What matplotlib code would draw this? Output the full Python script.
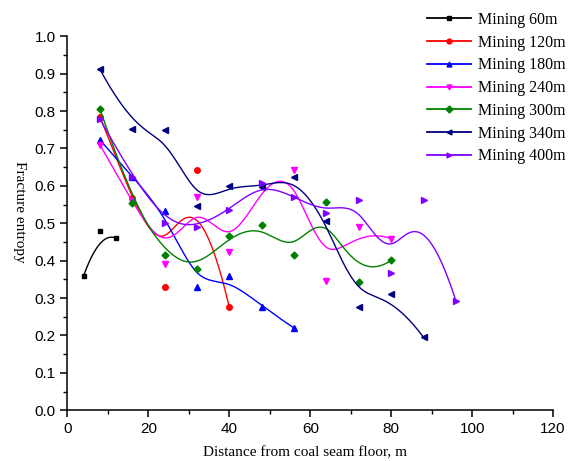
import numpy as np
import matplotlib
matplotlib.use('Agg')
import matplotlib.pyplot as plt
from matplotlib.lines import Line2D
from matplotlib.ticker import MultipleLocator, FormatStrFormatter

# DATA
mining_60_x = [4, 8, 12]
mining_60_y = [0.36, 0.48, 0.46]
dist = [8, 16, 24, 32, 40, 48, 56, 64, 72, 80, 88, 96]
mining_120_y = [0.785, 0.568, 0.33, 0.642, 0.275]
mining_180_y = [0.723, 0.625, 0.533, 0.33, 0.358, 0.277, 0.22]
mining_240_y = [0.71, 0.56, 0.39, 0.57, 0.424, 0.60, 0.643, 0.347, 0.489, 0.459]
mining_300_y = [0.806, 0.555, 0.415, 0.378, 0.466, 0.495, 0.414, 0.558, 0.342, 0.401]
mining_340_y = [0.912, 0.752, 0.749, 0.546, 0.601, 0.597, 0.625, 0.507, 0.277, 0.311, 0.195]
mining_400_y = [0.779, 0.625, 0.50, 0.489, 0.536, 0.607, 0.571, 0.528, 0.561, 0.366, 0.561, 0.292]

labels = ['Mining 60m', 'Mining 120m', 'Mining 180m', 'Mining 240m',
          'Mining 300m', 'Mining 340m', 'Mining 400m']
colors = ['#000000', '#FF0000', '#0000FF', '#FF00FF', '#008000', '#000080', '#8000FF']
markers = ['s', 'o', '^', 'v', 'D', '<', '>']


def bspline(xs, ys, n=300):
    # clamped uniform b-spline, data points used as control points (like Origin's B-Spline line)
    P = np.column_stack([xs, ys]).astype(float)
    m = len(P)
    k = min(3, m - 1)
    knots = np.concatenate([np.zeros(k), np.linspace(0, 1, m - k + 1), np.ones(k)])
    t = np.linspace(0, 1, n)
    N = np.zeros((n, len(knots) - 1))
    for i in range(len(knots) - 1):
        N[:, i] = (knots[i] <= t) & (t < knots[i + 1])
    N[-1, m - 1] = 1.0
    for p in range(1, k + 1):
        Nn = np.zeros((n, len(knots) - 1 - p))
        for i in range(len(knots) - 1 - p):
            d1 = knots[i + p] - knots[i]
            d2 = knots[i + p + 1] - knots[i + 1]
            a = (t - knots[i]) / d1 if d1 > 0 else 0.0
            b = (knots[i + p + 1] - t) / d2 if d2 > 0 else 0.0
            Nn[:, i] = a * N[:, i] + b * N[:, i + 1]
        N = Nn
    C = N[:, :m] @ P
    return C[:, 0], C[:, 1]


series_y = [mining_60_y, mining_120_y, mining_180_y, mining_240_y,
            mining_300_y, mining_340_y, mining_400_y]
series_x = [mining_60_x] + [dist[:len(y)] for y in series_y[1:]]

fig = plt.figure(figsize=(5.69, 4.61), dpi=100)
ax = fig.add_axes([0.1186, 0.110, 0.8534, 0.8113])

for x, y, c, mk in zip(series_x, series_y, colors, markers):
    cx, cy = bspline(x, y)
    ax.plot(cx, cy, color=c, lw=1.0)
    ms = {'s': 3.3, 'D': 3.5}.get(mk, 4)
    ax.plot(x, y, linestyle='none', marker=mk, color=c, markersize=ms)

ax.set_xlim(0, 120)
ax.set_ylim(0, 1.0)
ax.xaxis.set_major_locator(MultipleLocator(20))
ax.xaxis.set_minor_locator(MultipleLocator(10))
ax.yaxis.set_major_locator(MultipleLocator(0.1))
ax.yaxis.set_minor_locator(MultipleLocator(0.05))
ax.yaxis.set_major_formatter(FormatStrFormatter('%.1f'))
ax.spines['top'].set_visible(False)
ax.spines['right'].set_visible(False)
for s in ['left', 'bottom']:
    ax.spines[s].set_linewidth(1.1)
ax.tick_params(which='major', direction='out', length=5, width=1.1, labelsize=11)
ax.tick_params(which='minor', direction='out', length=3, width=1.0)
for lab in ax.get_xticklabels() + ax.get_yticklabels():
    lab.set_fontfamily('Liberation Sans')

ax.set_xlabel('Distance from coal seam floor, m', fontfamily='Liberation Serif', fontsize=11, va='center')
ax.xaxis.set_label_coords(0.489, -0.113)
ax.set_ylabel('Fracture entropy', fontfamily='Liberation Serif', fontsize=11,
              rotation=270, va='center', ha='center')
ax.yaxis.set_label_coords(-0.098, 0.53)

handles = [Line2D([0], [0], color=c, marker=mk, markersize=3.5, lw=1.3)
           for c, mk in zip(colors, markers)]
fig.legend(handles, labels, loc='upper left', bbox_to_anchor=(427 / 569, 1 - 12 / 461),
           frameon=False, borderpad=0, borderaxespad=0, handlelength=2.75,
           handletextpad=0.45, labelspacing=0.42, numpoints=1,
           prop={'family': 'Liberation Serif', 'size': 11.5})

fig.savefig('out.png', dpi=100)
